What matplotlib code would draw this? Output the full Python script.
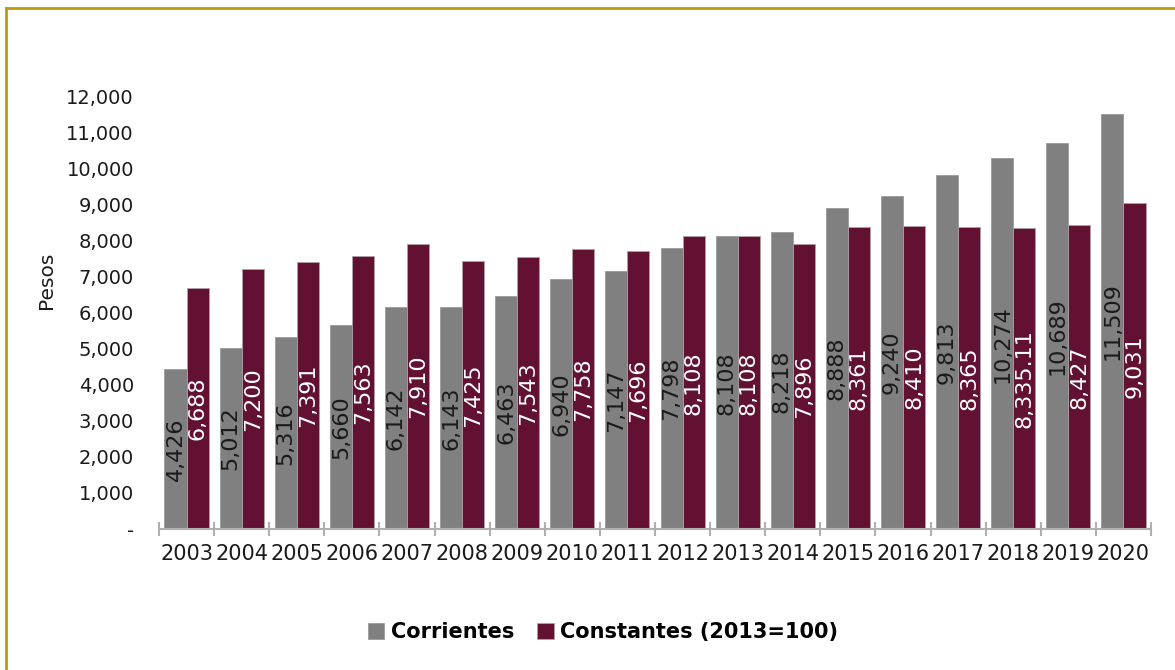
import matplotlib
matplotlib.use("Agg")
import matplotlib.pyplot as plt
from matplotlib.lines import Line2D
import numpy as np

# datos
years = ["2003", "2004", "2005", "2006", "2007", "2008", "2009", "2010", "2011",
         "2012", "2013", "2014", "2015", "2016", "2017", "2018", "2019", "2020"]
corrientes = [4426, 5012, 5316, 5660, 6142, 6143, 6463, 6940, 7147,
              7798, 8108, 8218, 8888, 9240, 9813, 10274, 10689, 11509]
constantes = [6688, 7200, 7391, 7563, 7910, 7425, 7543, 7758, 7696,
              8108, 8108, 7896, 8361, 8410, 8365, 8335.11, 8427, 9031]
constantes_txt = ["6,688", "7,200", "7,391", "7,563", "7,910", "7,425", "7,543", "7,758", "7,696",
                  "8,108", "8,108", "7,896", "8,361", "8,410", "8,365", "8,335.11", "8,427", "9,031"]
yticks = [0, 1000, 2000, 3000, 4000, 5000, 6000, 7000, 8000, 9000, 10000, 11000, 12000]

gris = "#808080"
guinda = "#621132"
oro = "#C49A00"

plt.rcParams['font.family'] = ['DejaVu Sans']

fig = plt.figure(figsize=(11.75, 6.7), dpi=100)
ax = fig.add_axes([0.1353, 0.2104, 0.8443, 0.6463])

x = np.arange(len(years))
w = 0.4
b1 = ax.bar(x - w/2, corrientes, w, color=gris, edgecolor="#9a9a9a", linewidth=0.6, label="Corrientes")
b2 = ax.bar(x + w/2, constantes, w, color=guinda, edgecolor="#b0a0a8", linewidth=0.6, label="Constantes (2013=100)")

for xi, v in zip(x, corrientes):
    ax.text(xi - w/2, v/2, f"{v:,}", rotation=90, ha="center", va="center",
            fontsize=16, color="#1a1a1a")
for xi, v, t in zip(x, constantes, constantes_txt):
    ax.text(xi + w/2, v/2, t, rotation=90, ha="center", va="center",
            fontsize=16, color="white")

ax.set_xlim(-0.5, len(years) - 0.5)
ax.set_ylim(0, 12000)
ax.set_yticks(yticks)
ax.set_yticklabels(["-" if t == 0 else f"{t:,}" for t in yticks])
ax.tick_params(axis="y", length=0, pad=18, labelsize=14, labelcolor="#1a1a1a")

# ticks del eje x en los limites de categoria, etiquetas al centro
ax.set_xticks(np.arange(-0.5, len(years), 1.0))
ax.set_xticklabels([])
ax.set_xticks(x, minor=True)
ax.set_xticklabels(years, minor=True)
ax.tick_params(axis="x", which="major", direction="inout", length=10, color="#b0b0b0", width=1.5)
ax.tick_params(axis="x", which="minor", length=0, pad=11, labelsize=15, labelcolor="#1a1a1a")

for s in ["top", "right", "left"]:
    ax.spines[s].set_visible(False)
ax.spines["bottom"].set_color("#b0b0b0")
ax.spines["bottom"].set_linewidth(1.5)

fig.text(0.04, 0.582, "Pesos", rotation=90, ha="center", va="center", fontsize=14.5, color="#1a1a1a")

leg = fig.legend(handles=[b1, b2], loc="center", bbox_to_anchor=(0.513, 0.057), ncol=2,
                 frameon=False, handlelength=0.8, handleheight=0.8, handletextpad=0.3,
                 columnspacing=1.1, prop={"weight": "bold", "size": 15})

# marco dorado
fig.add_artist(Line2D([0.005, 1.0], [0.988, 0.988], color=oro, linewidth=2, transform=fig.transFigure))
fig.add_artist(Line2D([0.005, 0.005], [0.0, 0.988], color=oro, linewidth=2, transform=fig.transFigure))

fig.savefig("out.png", dpi=100)
